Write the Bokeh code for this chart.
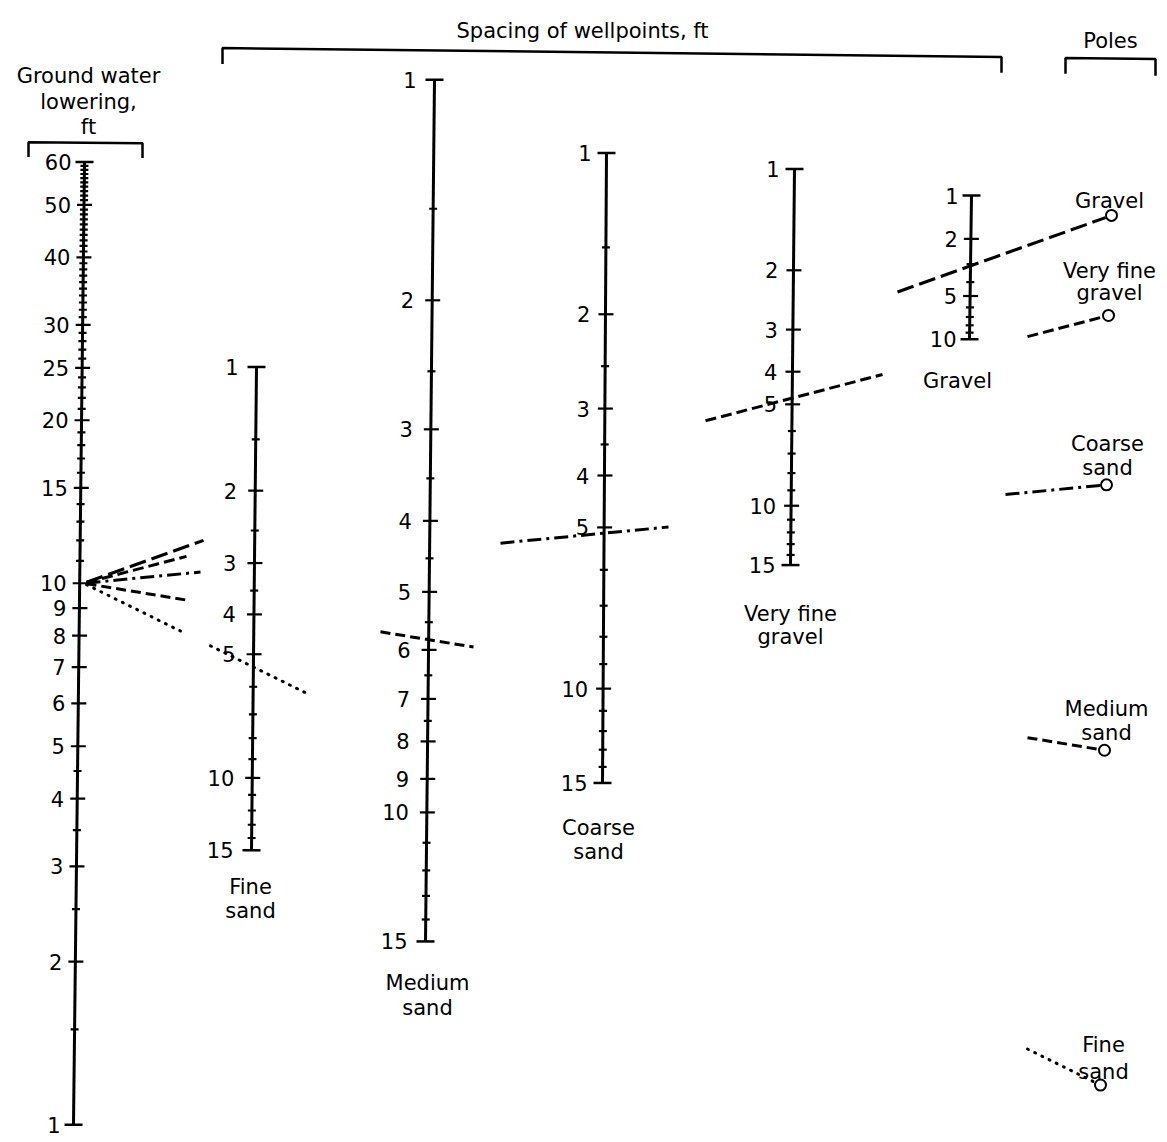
import math
from bokeh.plotting import figure
from bokeh.models import Range1d, LogScale
from bokeh.embed import file_html
from bokeh.resources import INLINE
from bokeh.core.properties import value

# ---------------- data ----------------
gwl_labels = [1, 2, 3, 4, 5, 6, 7, 8, 9, 10, 15, 20, 25, 30, 40, 50, 60]
gwl_minor = [1.5, 2.5, 3.5, 4.5, 11, 12, 13, 14, 16, 17, 18, 19, 21, 22, 23, 24,
             26, 27, 28, 29, 31, 32, 33, 34, 35, 36, 37, 38, 39,
             41, 42, 43, 44, 45, 46, 47, 48, 49, 51, 52, 53, 54, 55, 56, 57, 58, 59]

fine_labels = [1, 2, 3, 4, 5, 10, 15]
fine_minor = [1.5, 2.5, 3.5, 6, 7, 8, 9, 11, 12, 13, 14]

medium_labels = [1, 2, 3, 4, 5, 6, 7, 8, 9, 10, 15]
medium_minor = [1.5, 2.5, 3.5, 4.5, 5.5, 6.5, 7.5, 11, 12, 13, 14]

coarse_labels = [1, 2, 3, 4, 5, 10, 15]
coarse_minor = [1.5, 2.5, 3.5, 6, 7, 8, 9, 11, 12, 13, 14]

vfg_labels = [1, 2, 3, 4, 5, 10, 15]
vfg_minor = [6, 7, 8, 9, 11, 12, 13, 14]

gravel_labels = [1, 2, 5, 10]
gravel_minor = [3, 4, 6, 7, 8, 9]

scale_names = ["gwl", "fine", "medium", "coarse", "vfg", "gravel"]
scale_titles = {
    "fine": ["Fine", "sand"],
    "medium": ["Medium", "sand"],
    "coarse": ["Coarse", "sand"],
    "vfg": ["Very fine", "gravel"],
    "gravel": ["Gravel"],
}

pole_names = ["Gravel", "Very fine gravel", "Coarse sand", "Medium sand", "Fine sand"]
pole_titles = [["Gravel"], ["Very fine", "gravel"], ["Coarse", "sand"], ["Medium", "sand"], ["Fine", "sand"]]
gwl_example = 10  # ground water lowering used in the worked examples, ft

# ---------------- layout (pixel geometry) ----------------
# scale: (v1, x1, y1, v2, x2, y2) anchors of each log scale
GEOM = {
    "gwl": (1, 73, 1135, 60, 84, 163),
    "fine": (1, 256, 370, 15, 251, 858),
    "medium": (1, 434, 80, 15, 425, 950),
    "coarse": (1, 606, 154, 15, 602, 790),
    "vfg": (1, 794, 170, 15, 790, 570),
    "gravel": (1, 971, 197, 10, 969, 342),
}
LABELS = {"gwl": gwl_labels, "fine": fine_labels, "medium": medium_labels,
          "coarse": coarse_labels, "vfg": vfg_labels, "gravel": gravel_labels}
MINOR = {"gwl": gwl_minor, "fine": fine_minor, "medium": medium_minor,
         "coarse": coarse_minor, "vfg": vfg_minor, "gravel": gravel_minor}
LABEL_OFF = {"gwl": 13, "fine": 18, "medium": 18, "coarse": 15, "vfg": 15, "gravel": 13}
TITLE_POS = {"fine": (250, [895, 919]), "medium": (427, [992, 1017]),
             "coarse": (598, [835, 860]), "vfg": (790, [619, 643]), "gravel": (957, [384])}

POLE_XY = [(1111, 217), (1108, 318), (1106, 489), (1104, 757), (1100, 1095)]
POLE_TITLE_POS = [(1109, [202]), (1109, [273, 295]), (1107, [448, 472]),
                  (1106, [715, 740]), (1103, [1055, 1082])]
SEGMENTS = [
    [(86, 203), (897, 1105)],
    [(86, 186), (705, 882), (1027, 1102)],
    [(86, 200), (500, 668), (1005, 1100)],
    [(86, 188), (380, 473), (1027, 1098)],
    [(86, 180), (210, 305), (1027, 1094)],
]
DASHES = ["17 6", "11 5", "14 5 3 5", "10 5", "1 7"]

W, H = 1167, 1142
Y_TOP, Y_BOT = 0, 1153
FONT = value("DejaVu Sans")
FS = "21px"


def _frac(name, v):
    v1, x1, y1, v2, x2, y2 = GEOM[name]
    return (math.log10(v) - math.log10(v1)) / (math.log10(v2) - math.log10(v1))


def xpix(name, v):
    v1, x1, y1, v2, x2, y2 = GEOM[name]
    return x1 + _frac(name, v) * (x2 - x1)


def ypix(name, v):
    v1, x1, y1, v2, x2, y2 = GEOM[name]
    return y1 + _frac(name, v) * (y2 - y1)


def val_at_pixel(name, y):
    v1, x1, y1, v2, x2, y2 = GEOM[name]
    lv = math.log10(v1) + (y - y1) / (y2 - y1) * (math.log10(v2) - math.log10(v1))
    return 10 ** lv


p = figure(width=W, height=H, x_range=Range1d(0, W), y_range=Range1d(Y_BOT, Y_TOP),
           output_backend="svg", toolbar_location=None, x_axis_type=None, y_axis_type=None,
           min_border=0)
p.grid.visible = False
p.outline_line_color = None
p.background_fill_color = "white"
p.border_fill_color = "white"

# one log scale per nomograph column
p.extra_y_ranges = {n: Range1d(val_at_pixel(n, Y_BOT), val_at_pixel(n, Y_TOP)) for n in scale_names}
p.extra_y_scales = {n: LogScale() for n in scale_names}

for n in scale_names:
    labs = LABELS[n]
    vmin, vmax = min(labs), max(labs)
    # spine
    p.segment(x0=[xpix(n, vmin)], y0=[vmin], x1=[xpix(n, vmax)], y1=[vmax],
              y_range_name=n, line_width=3, line_color="black")
    # end bars
    ends = [vmin, vmax]
    p.segment(x0=[xpix(n, v) - 9 for v in ends], x1=[xpix(n, v) + 9 for v in ends],
              y0=ends, y1=ends, y_range_name=n, line_width=2.5, line_color="black")
    # major ticks
    maj = [v for v in labs if v not in ends]
    p.segment(x0=[xpix(n, v) - 7 for v in maj], x1=[xpix(n, v) + 8 for v in maj],
              y0=maj, y1=maj, y_range_name=n, line_width=2.2, line_color="black")
    # minor ticks
    mn = MINOR[n]
    p.segment(x0=[xpix(n, v) - 4 for v in mn], x1=[xpix(n, v) + 4 for v in mn],
              y0=mn, y1=mn, y_range_name=n, line_width=2.2, line_color="black")
    # labels
    p.text(x=[xpix(n, v) - LABEL_OFF[n] for v in labs], y=labs, text=[str(v) for v in labs],
           y_range_name=n, text_align="right", text_baseline="middle",
           text_font=FONT, text_font_size=FS, text_color="black")

# scale titles
for n, lines in scale_titles.items():
    cx, ys = TITLE_POS[n]
    p.text(x=[cx] * len(lines), y=ys, text=lines, text_align="center",
           text_baseline="alphabetic", text_font=FONT, text_font_size=FS, text_color="black")

# poles
p.scatter(x=[xy[0] for xy in POLE_XY], y=[xy[1] for xy in POLE_XY], marker="circle",
          size=11, fill_color="white", line_color="black", line_width=2)
for (cx, ys), lines in zip(POLE_TITLE_POS, pole_titles):
    p.text(x=[cx] * len(lines), y=ys, text=lines, text_align="center",
           text_baseline="alphabetic", text_font=FONT, text_font_size=FS, text_color="black")

# example index lines: from ground water lowering 10 ft to each pole
ax, ay = xpix("gwl", gwl_example) + 4, ypix("gwl", gwl_example)
for (px_, py_), segs, dash in zip(POLE_XY, SEGMENTS, DASHES):
    xs, ys = [], []
    for (xa, xb) in segs:
        ya_ = ay + (xa - ax) / (px_ - ax) * (py_ - ay)
        yb_ = ay + (xb - ax) / (px_ - ax) * (py_ - ay)
        xs.append([xa, xb])
        ys.append([ya_, yb_])
    p.multi_line(xs=xs, ys=ys, line_width=3, line_color="black", line_dash=dash,
                 line_cap="round" if dash == "1 7" else "butt")

# headers and brackets
p.text(x=[88, 88, 88], y=[76, 102, 128], text=["Ground water", "lowering,", "ft"],
       text_align="center", text_baseline="alphabetic", text_font=FONT,
       text_font_size=FS, text_color="black")
p.text(x=[582], y=[31], text=["Spacing of wellpoints, ft"], text_align="center",
       text_baseline="alphabetic", text_font=FONT, text_font_size=FS, text_color="black")
p.text(x=[1110], y=[41], text=["Poles"], text_align="center", text_baseline="alphabetic",
       text_font=FONT, text_font_size=FS, text_color="black")
BRACKETS = [
    ([28, 28, 142, 142], [158, 143, 144, 159]),
    ([222, 222, 1001, 1001], [64, 48, 57, 73]),
    ([1065, 1065, 1155, 1155], [74, 58, 59, 76]),
]
p.multi_line(xs=[b[0] for b in BRACKETS], ys=[b[1] for b in BRACKETS],
             line_width=2.5, line_color="black")

open("out.html", "w").write(file_html(p, INLINE))
